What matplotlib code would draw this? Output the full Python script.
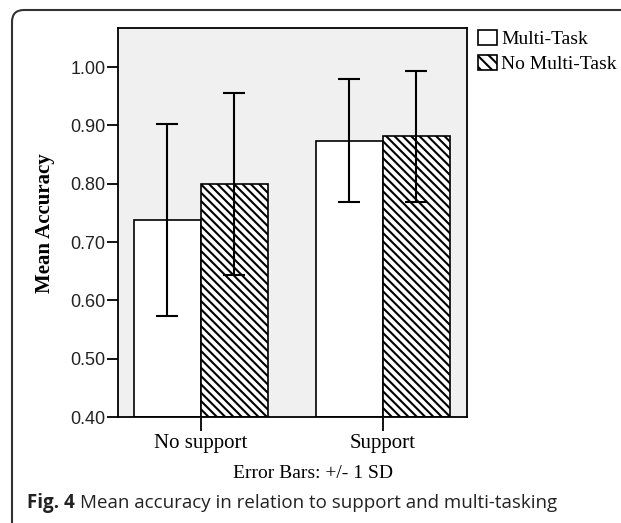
import numpy as np
import matplotlib
matplotlib.use('Agg')
import matplotlib.pyplot as plt
from matplotlib.patches import FancyBboxPatch, Patch
from matplotlib.transforms import IdentityTransform

# data
groups = ['No support', 'Support']
series = ['Multi-Task', 'No Multi-Task']
means_mt = [0.738, 0.874]
sd_mt = [0.164, 0.106]
means_nomt = [0.800, 0.881]
sd_nomt = [0.156, 0.112]
yticks = [0.40, 0.50, 0.60, 0.70, 0.80, 0.90, 1.00]

plt.rcParams['hatch.linewidth'] = 1.5
plt.rcParams['hatch.color'] = 'black'
HATCH = '\\' * 4

W, H = 621, 523
fig = plt.figure(figsize=(W / 100, H / 100), dpi=100)

# rounded outer frame
frame = FancyBboxPatch((12, -30), 700, 543, boxstyle='round,pad=0,rounding_size=12',
                       transform=IdentityTransform(), facecolor='white',
                       edgecolor='#333333', linewidth=1.5, zorder=-5)
fig.add_artist(frame)

ax = fig.add_axes([118 / W, 1 - 417 / H, (467 - 118) / W, (417 - 28) / H])
ax.set_facecolor('#f0f0f0')

x = np.arange(len(groups))
bw = 0.368
err_kw = dict(ecolor='black', elinewidth=1.5, capsize=8, capthick=1.5)
ax.bar(x - bw / 2, np.array(means_mt) - 0.4, bw, bottom=0.4, color='white',
       edgecolor='black', linewidth=1.2)
ax.bar(x + bw / 2, np.array(means_nomt) - 0.4, bw, bottom=0.4, color='white',
       edgecolor='black', linewidth=1.2, hatch=HATCH)
ax.errorbar(x - bw / 2, means_mt, yerr=sd_mt, fmt='none', **err_kw)
ax.errorbar(x + bw / 2, means_nomt, yerr=sd_nomt, fmt='none', **err_kw)

ax.set_xlim(-0.456, 1.462)
ax.set_ylim(0.40, 1.067)
ax.set_yticks(yticks)
ax.set_yticklabels(['%.2f' % v for v in yticks], fontsize=13,
                   family='Liberation Sans', color='#222222')
ax.set_xticks(x)
ax.set_xticklabels(groups, fontsize=15, family='Liberation Serif')
ax.tick_params(axis='y', direction='out', length=8, width=1.3, pad=1)
ax.tick_params(axis='x', direction='out', length=10, width=1.3, pad=2)
for s in ax.spines.values():
    s.set_linewidth(1.3)

fig.text(45 / W, 1 - 223 / H, 'Mean Accuracy', rotation=90, fontsize=15,
         family='Liberation Serif', fontweight='bold', ha='center', va='center')
fig.text(313 / W, 1 - 474 / H, 'Error Bars: +/- 1 SD', fontsize=14,
         family='Liberation Serif', ha='center', va='center')

# legend
handles = [Patch(facecolor='white', edgecolor='black', linewidth=1.2),
           Patch(facecolor='white', edgecolor='black', linewidth=1.2, hatch='\\\\\\')]
fig.legend(handles, series, loc='upper left', bbox_to_anchor=(478 / W, 1 - 30 / H),
           frameon=False, prop={'family': 'Liberation Serif', 'size': 14},
           handlelength=1.0, handleheight=0.8, handletextpad=0.2,
           labelspacing=0.35, borderpad=0, borderaxespad=0)

# caption: bold label, then the rest placed right after it
cap_y = 1 - 503 / H
t1 = fig.text(27 / W, cap_y, 'Fig. 4', fontsize=13.5, family='Open Sans',
              fontweight='bold', va='center', ha='left', color='#222222')
fig.canvas.draw()
bb = t1.get_window_extent()
fig.text((bb.x1 + 5) / W, cap_y, 'Mean accuracy in relation to support and multi-tasking',
         fontsize=13.5, family='Open Sans', va='center', ha='left', color='#222222')

fig.savefig('out.png', dpi=100)
